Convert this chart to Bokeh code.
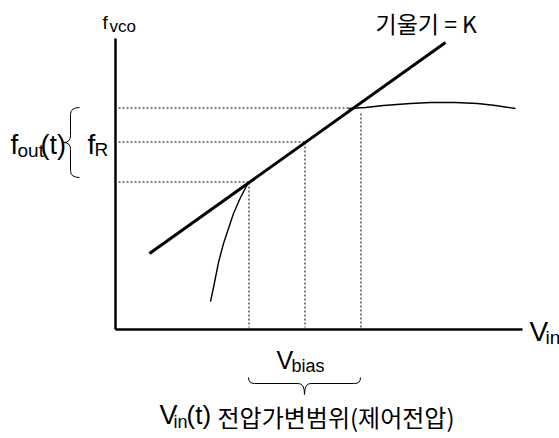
from bokeh.plotting import figure
from bokeh.models import Range1d
from bokeh.core.properties import value
from bokeh.embed import file_html
from bokeh.resources import INLINE

# ---- data (diagram units: origin at the axes corner) ----
axis_x_end = 407
axis_y_end = 291

f_levels = [147, 187, 221]          # f_low, f_R, f_high
v_levels = [133, 189, 245]          # V_low, V_bias, V_high
h_dot_ends = [133, 189, 233]        # where horizontal dotted guides stop
v_dot_tops = [147, 187, 216]        # where vertical dotted guides start

k_line_x = [34, 330]
k_line_y = [76, 287]

curve_low_x = [95, 98, 100, 103, 108, 113, 118, 125, 133]
curve_low_y = [28, 42, 52, 67, 86, 101, 116, 132, 147]

curve_high_x = [233, 250, 268, 295, 315, 340, 362, 380, 400]
curve_high_y = [221, 222, 224, 226, 227, 227, 226, 224, 221]

SANS = "Liberation Sans"
KR = "Noto Sans CJK KR"
HALF = 0.5       # pixel alignment for crisp 1px dotted lines
LIFT = 0.4       # baseline correction, fraction of font size

p = figure(width=559, height=438, output_backend="svg", toolbar_location=None,
           x_range=Range1d(-115, 444), y_range=Range1d(-109, 329),
           min_border=0, background_fill_color="white")
p.axis.visible = False
p.grid.visible = False
p.outline_line_color = None

# axes
p.line([0, 0], [0, axis_y_end], line_color="black", line_width=2.5)
p.line([0, axis_x_end], [0, 0], line_color="black", line_width=2.5)

# dotted guides
for fy, xe in zip(f_levels, h_dot_ends):
    p.line([3, xe], [fy + HALF, fy + HALF], line_color="black", line_width=1, line_dash="2 2")
for vx, yt in zip(v_levels, v_dot_tops):
    p.line([vx + HALF, vx + HALF], [yt, 2], line_color="black", line_width=1, line_dash="2 2")

# slope line and characteristic curve
p.line(k_line_x, k_line_y, line_color="black", line_width=3)
p.line(curve_low_x, curve_low_y, line_color="black", line_width=1.4)
p.line(curve_high_x, curve_high_y, line_color="black", line_width=1.4)


def brace(p, a0, a1, body, tip, ends, mid, r, vertical):
    """Curly brace spanning a0..a1; body offset, tip offset, end offset, tip position mid."""
    segs = [
        ((ends, a0), (body, a0), (body, a0 + r)),
        ((body, mid - r), (body, mid), (tip, mid)),
        ((ends, a1), (body, a1), (body, a1 - r)),
        ((body, mid + r), (body, mid), (tip, mid)),
    ]
    lines = [((body, a0 + r), (body, mid - r)), ((body, a1 - r), (body, mid + r))]
    for s, c, e in segs:
        if vertical:
            p.quadratic(x0=[s[0]], y0=[s[1]], cx=[c[0]], cy=[c[1]], x1=[e[0]], y1=[e[1]],
                        line_color="black", line_width=1)
        else:
            p.quadratic(x0=[s[1]], y0=[s[0]], cx=[c[1]], cy=[c[0]], x1=[e[1]], y1=[e[0]],
                        line_color="black", line_width=1)
    for s, e in lines:
        if vertical:
            p.line([s[0], e[0]], [s[1], e[1]], line_color="black", line_width=1)
        else:
            p.line([s[1], e[1]], [s[0], e[0]], line_color="black", line_width=1)


# left brace for f_out(t) (vertical, tip to the left)
brace(p, f_levels[1] - 35, f_levels[1] + 35, -45, -52, -36, f_levels[1], 7, True)
# bottom brace under V_bias (horizontal, tip downward)
brace(p, v_levels[0], v_levels[2], -54, -65, -48, v_levels[1], 6, False)


def txt(x, y, s, size, font=SANS, align="left"):
    p.text(x=[x], y=[y + LIFT * size], text=[s], text_font=value(font),
           text_font_size=f"{size}px", text_align=align, text_baseline="alphabetic",
           text_color="black")


# f_vco
txt(-13, 299, "f", 19)
txt(-6, 296, "vco", 17)
# f_out(t)
txt(-105, 174, "f", 28)
txt(-98, 171, "out", 19)
txt(-75, 174, "(t)", 27)
# f_R
txt(-28, 174, "f", 28)
txt(-21, 172, "R", 19)
# slope label
txt(260, 297, "기울기 = K", 23, font=KR)
# V_in axis label
txt(414, -13, "V", 28)
txt(430, -16, "in", 19)
# V_bias
txt(161, -40, "V", 25)
txt(176, -44, "bias", 18)
# bottom caption
txt(44, -96, "V", 27)
txt(58, -100, "in", 18)
txt(71, -96, "(t)", 26)
txt(102, -97, "전압가변범위(제어전압)", 24, font=KR)

open("out.html", "w").write(file_html(p, INLINE))
